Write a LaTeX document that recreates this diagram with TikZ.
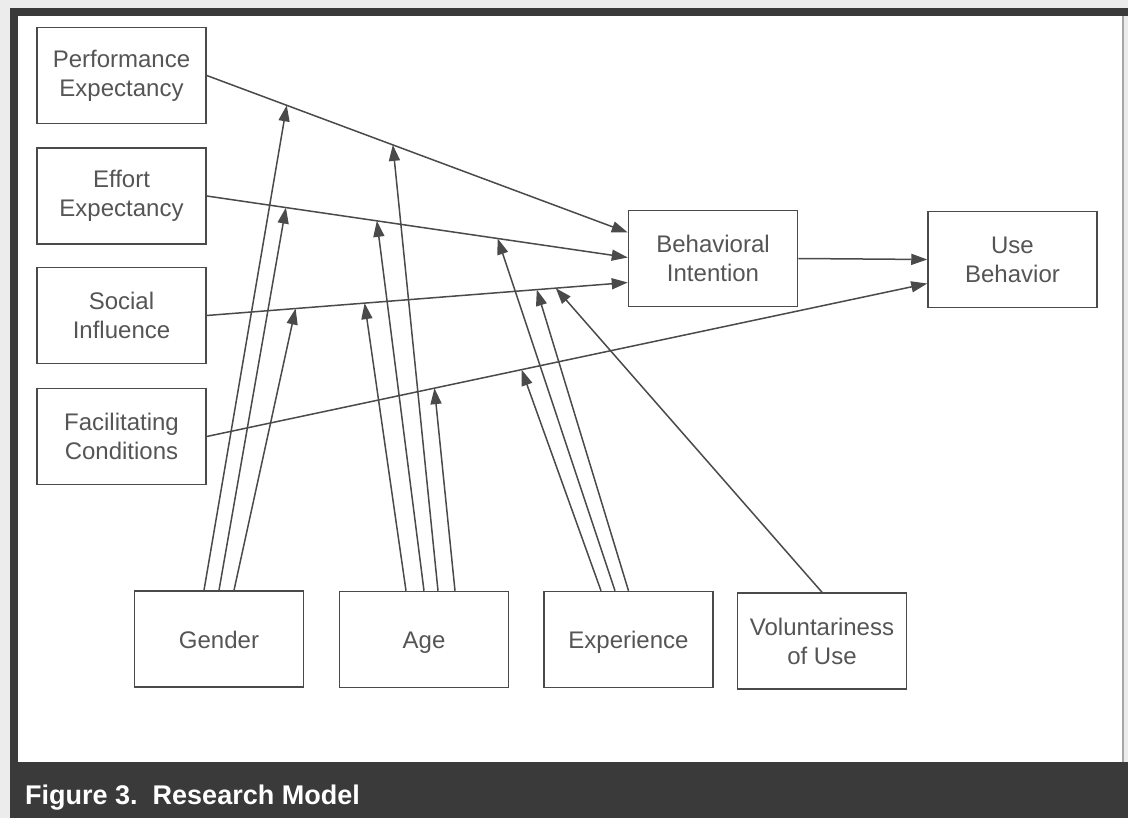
\documentclass[tikz,border=0pt]{standalone}
\usepackage{fontspec}
\setmainfont{Liberation Sans}
\usetikzlibrary{arrows.meta,calc}
\definecolor{txt}{HTML}{555555}
\definecolor{ln}{HTML}{4A4A4A}
\definecolor{framecol}{HTML}{3A3A3A}
\definecolor{bgcol}{HTML}{ECECEC}
\tikzset{
  box/.style={draw=ln, line width=1.5pt, minimum width=169pt, minimum height=96pt,
    inner sep=0pt, align=center, text=txt, font=\fontsize{24}{29}\selectfont},
  single/.style={text height=20pt, text depth=2pt},
  arr/.style={draw=ln, line width=1.5pt, -{Triangle[length=16pt,width=11pt]}},
}
\begin{document}
\begin{tikzpicture}[x=1pt,y=-1pt]
\useasboundingbox (0,0) rectangle (1128,818);
% frame
\fill[bgcol] (0,0) rectangle (1128,818);
\fill[white] (14,12) rectangle (1123,762);
\draw[gray!70, line width=1.5pt] (1123,16) -- (1123,762);
\draw[framecol, line width=8pt] (14,818) -- (14,12) -- (1128,12);
\fill[framecol] (10,762) rectangle (1128,818);
\node[anchor=base west, text=white, inner sep=0pt,
  font=\bfseries\fontsize{27}{32}\selectfont] (cap) at (25,804) {Figure 3.\ \ Research Model};

% boxes
\node[box] (pe) at (121.5,75.5) {Performance\\Expectancy};
\node[box] (ee) at (121.5,196) {Effort\\Expectancy};
\node[box] (si) at (121.5,315.5) {Social\\Influence};
\node[box] (fc) at (121.5,436.5) {Facilitating\\Conditions};
\node[box] (bi) at (713,258.5) {Behavioral\\Intention};
\node[box] (ub) at (1012.5,259.5) {Use\\Behavior};
\node[box, single] (gen) at (219,639) {Gender};
\node[box, single] (age) at (424,639.5) {Age};
\node[box, single] (exp) at (628.5,639.5) {Experience};
\node[box] (vol) at (822,641) {Voluntariness\\of Use};

% main paths
\coordinate (l1s) at (pe.east);
\coordinate (l1e) at ([yshift=26pt]bi.west);
\coordinate (l2s) at (ee.east);
\coordinate (l2e) at ([yshift=1pt]bi.west);
\coordinate (l3s) at (si.east);
\coordinate (l3e) at ([yshift=-24pt]bi.west);
\coordinate (l4s) at (fc.east);
\coordinate (l4e) at ([yshift=-24pt]ub.west);
\draw[arr] (l1s) -- (l1e);
\draw[arr] (l2s) -- (l2e);
\draw[arr] (l3s) -- (l3e);
\draw[arr] (l4s) -- (l4e);
\draw[arr] (bi.east) -- (ub.west);

% moderation targets
\coordinate (g1) at ($(l1s)!0.19!(l1e)$);
\coordinate (g2) at ($(l2s)!0.188!(l2e)$);
\coordinate (g3) at ($(l3s)!0.211!(l3e)$);
\coordinate (a1) at ($(l1s)!0.442!(l1e)$);
\coordinate (a2) at ($(l2s)!0.404!(l2e)$);
\coordinate (a3) at ($(l3s)!0.375!(l3e)$);
\coordinate (a4) at ($(l4s)!0.316!(l4e)$);
\coordinate (x2) at ($(l2s)!0.691!(l2e)$);
\coordinate (x3) at ($(l3s)!0.784!(l3e)$);
\coordinate (x4) at ($(l4s)!0.437!(l4e)$);
\coordinate (v3) at ($(l3s)!0.829!(l3e)$);

% moderators
\draw[arr] ([xshift=-15pt]gen.north) -- (g1);
\draw[arr] (gen.north) -- (g2);
\draw[arr] ([xshift=15pt]gen.north) -- (g3);
\draw[arr] ([xshift=-18pt]age.north) -- (a3);
\draw[arr] (age.north) -- (a2);
\draw[arr] ([xshift=14pt]age.north) -- (a1);
\draw[arr] ([xshift=31pt]age.north) -- (a4);
\draw[arr] ([xshift=-27.5pt]exp.north) -- (x4);
\draw[arr] ([xshift=-13.5pt]exp.north) -- (x2);
\draw[arr] (exp.north) -- (x3);
\draw[arr] (vol.north) -- (v3);
\end{tikzpicture}
\end{document}
